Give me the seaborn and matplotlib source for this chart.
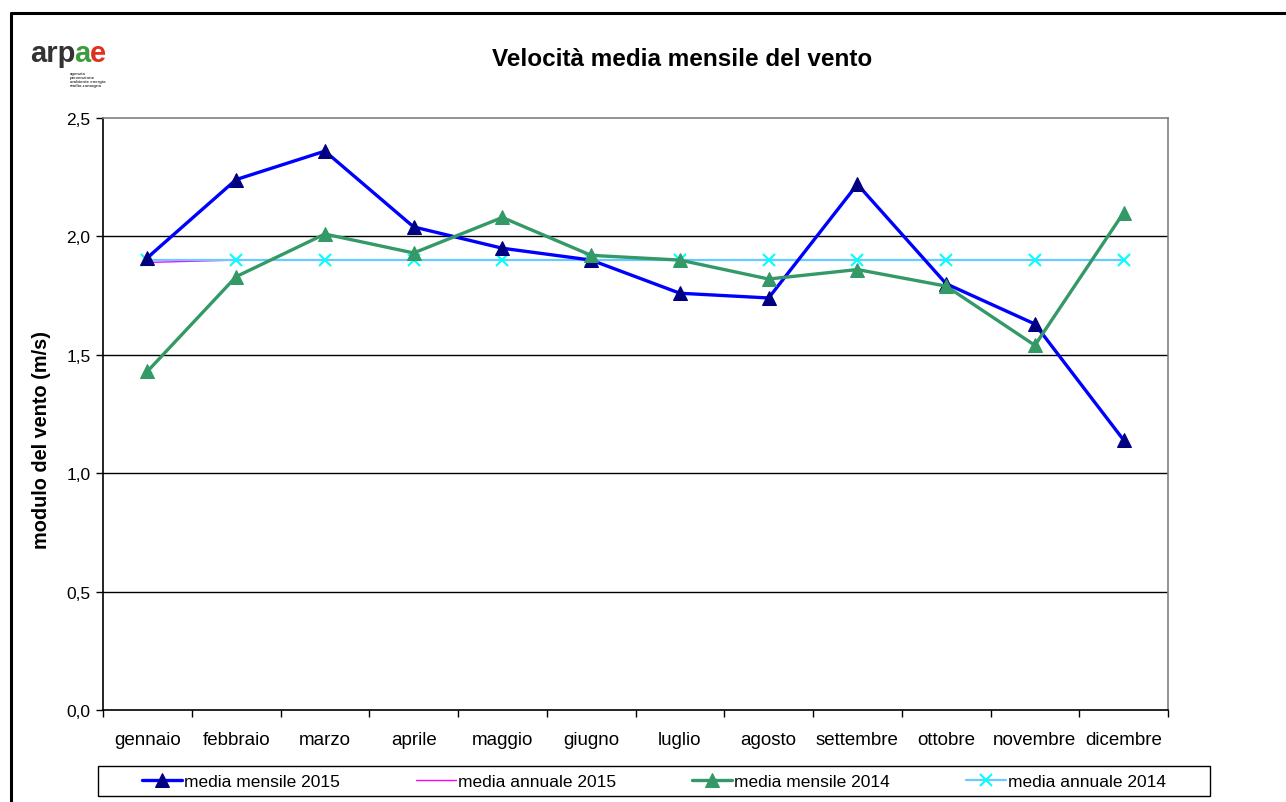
import numpy as np
import pandas as pd
import matplotlib
matplotlib.use("Agg")
import matplotlib.pyplot as plt
from matplotlib.lines import Line2D
from matplotlib.patches import Rectangle
import seaborn as sns

# Dati
mesi = ['gennaio', 'febbraio', 'marzo', 'aprile', 'maggio', 'giugno',
        'luglio', 'agosto', 'settembre', 'ottobre', 'novembre', 'dicembre']
mensile_2015 = [1.91, 2.24, 2.36, 2.04, 1.95, 1.90, 1.76, 1.74, 2.22, 1.80, 1.63, 1.14]
annuale_2015 = [1.89, 1.90, 1.90, 1.90, 1.90, 1.90, 1.90, 1.90, 1.90, 1.90, 1.90, 1.90]
mensile_2014 = [1.43, 1.83, 2.01, 1.93, 2.08, 1.92, 1.90, 1.82, 1.86, 1.79, 1.54, 2.10]
annuale_2014 = [1.90] * 12
y_ticks = [0.0, 0.5, 1.0, 1.5, 2.0, 2.5]
y_labels = ['0,0', '0,5', '1,0', '1,5', '2,0', '2,5']

W, H = 1286, 803
sns.set_style("white")
plt.rcParams['font.family'] = ['Liberation Sans', 'DejaVu Sans']
plt.rcParams['text.color'] = 'black'
plt.rcParams['xtick.color'] = 'black'
plt.rcParams['ytick.color'] = 'black'
plt.rcParams['xtick.labelcolor'] = 'black'
plt.rcParams['ytick.labelcolor'] = 'black'

fig = plt.figure(figsize=(W / 100, H / 100), dpi=100)
fig.patch.set_facecolor('white')


def px_box(x0, y0, x1, y1):
    # pixel box (top-left origin) -> figure fraction [l, b, w, h]
    return [x0 / W, 1 - y1 / H, (x1 - x0) / W, (y1 - y0) / H]


ax = fig.add_axes(px_box(103, 119, 1168, 711))
x = np.arange(len(mesi))

sns.lineplot(x=x, y=mensile_2015, ax=ax, color='#0000FF', lw=2.4,
             marker='^', markersize=10.5, markerfacecolor='#000080',
             markeredgecolor='#000080', label='media mensile 2015', zorder=4)
sns.lineplot(x=x, y=annuale_2015, ax=ax, color='#FF00FF', lw=1.0,
             label='media annuale 2015', zorder=2)
sns.lineplot(x=x, y=mensile_2014, ax=ax, color='#339966', lw=2.4,
             marker='^', markersize=10.5, markerfacecolor='#339966',
             markeredgecolor='#339966', label='media mensile 2014', zorder=5)
sns.lineplot(x=x, y=annuale_2014, ax=ax, color='#66CCFF', lw=1.6,
             marker='x', markersize=8, markeredgecolor='#00FFFF',
             markeredgewidth=1.5, label='media annuale 2014', zorder=3)

ax.set_xlim(-0.5, len(mesi) - 0.5)
ax.set_ylim(0, 2.5)
ax.set_yticks(y_ticks)
ax.set_yticklabels(y_labels, fontsize=12.5)
ax.set_xticks(x)
ax.set_xticklabels(mesi, fontsize=13.5)
ax.set_xticks(np.arange(len(mesi) + 1) - 0.5, minor=True)
ax.tick_params(axis='x', which='major', length=0, pad=15)
ax.tick_params(axis='x', which='minor', length=5, width=1, color='black',
               direction='out', bottom=True)
ax.tick_params(axis='y', length=5, width=1, color='black', direction='out',
               left=True, pad=4)
ax.set_xlabel('')
ax.set_ylabel('')

for yv in y_ticks[1:-1]:
    ax.axhline(yv, color='black', lw=1, zorder=1)
ax.spines['left'].set_color('black')
ax.spines['bottom'].set_color('black')
ax.spines['top'].set_color('#808080')
ax.spines['right'].set_color('#808080')
for s in ax.spines.values():
    s.set_linewidth(1.2)

handles, labels = ax.get_legend_handles_labels()
ax.legend_.remove()
fig.legend(handles, labels, loc='center', ncol=4, frameon=False,
           bbox_to_anchor=((98 + 1210) / 2 / W, 1 - 782 / H),
           fontsize=12.5, handlelength=2.3, handletextpad=0.1,
           columnspacing=4.4)
fig.patches.append(Rectangle((98 / W, 1 - 797 / H), 1112 / W, 30 / H,
                             transform=fig.transFigure, fill=False,
                             edgecolor='black', lw=1))

# cornice esterna
fig.lines.append(Line2D([11 / W, 11 / W], [0, 1 - 14 / H], transform=fig.transFigure,
                        color='black', lw=2.2))
fig.lines.append(Line2D([11 / W, 1], [1 - 14 / H, 1 - 14 / H], transform=fig.transFigure,
                        color='black', lw=2.2))

fig.text(682 / W, 1 - 59 / H, 'Velocità media mensile del vento',
         ha='center', va='center', fontsize=17.5, fontweight='bold')
fig.text(42 / W, 1 - 440 / H, 'modulo del vento (m/s)', rotation=90,
         ha='center', va='center', fontsize=14.3, fontweight='bold')

# logo arpae
fig.canvas.draw()
renderer = fig.canvas.get_renderer()
xpos = 30
for part, col in [('arp', '#333333'), ('a', '#3C9B3C'), ('e', '#E03020')]:
    t = fig.text(xpos / W, 1 - 62 / H, part, fontsize=21, fontweight='bold',
                 color=col, ha='left', va='baseline')
    xpos += t.get_window_extent(renderer).width - 1
fig.text(70 / W, 1 - 72 / H, 'agenzia\nprevenzione\nambiente energia\nemilia-romagna',
         fontsize=3.2, fontweight='bold', color='#444444', ha='left', va='top',
         linespacing=1.0)

fig.savefig('out.png', dpi=100, facecolor='white')
